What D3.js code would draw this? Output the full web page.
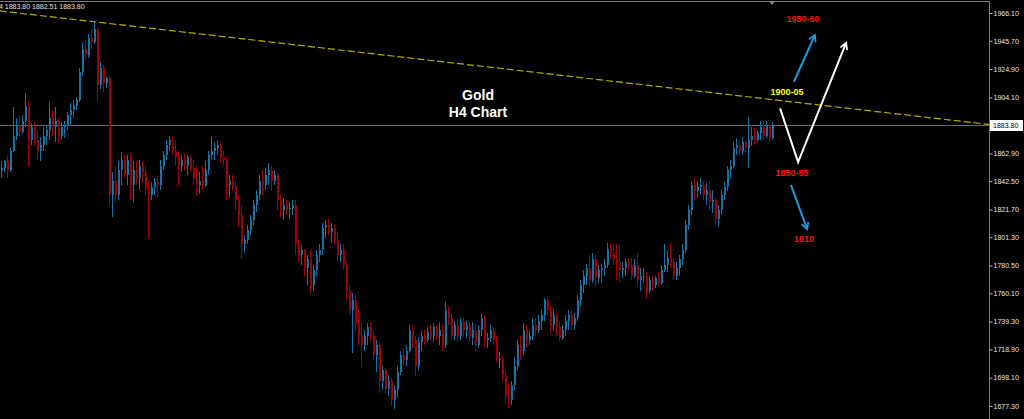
<!DOCTYPE html>
<html><head><meta charset="utf-8">
<script src="https://cdn.jsdelivr.net/npm/d3@7"></script>
<style>html,body{margin:0;padding:0;background:#000;overflow:hidden}svg{display:block}</style>
</head><body><svg id="c" width="1024" height="419"></svg>
<script>
// ---- data (XAUUSD H4, prices) ----
const opens=[1851,1852,1857,1851,1865,1876,1884,1879,1887,1898,
1873,1882,1873,1865,1869,1876,1880,1889,1882,1887,
1876,1882,1884,1891,1895,1898,1902,1923,1940,1935,
1948,1945,1954,1913,1926,1915,1918,1832,1843,1832,
1851,1858,1847,1858,1840,1851,1845,1854,1849,1836,
1832,1838,1842,1840,1854,1862,1869,1873,1865,1860,
1854,1858,1854,1860,1852,1845,1840,1843,1840,1851,
1862,1865,1867,1869,1860,1858,1840,1843,1838,1829,
1818,1796,1799,1807,1814,1825,1832,1843,1840,1847,
1851,1843,1847,1829,1821,1825,1823,1823,1825,1796,
1788,1792,1779,1785,1766,1777,1788,1792,1808,1810,
1805,1808,1799,1788,1792,1781,1762,1748,1755,1737,
1729,1722,1729,1735,1729,1715,1722,1696,1704,1690,
1696,1682,1689,1702,1715,1711,1718,1733,1726,1707,
1724,1729,1726,1732,1729,1735,1729,1733,1722,1748,
1742,1729,1737,1729,1739,1733,1737,1727,1733,1722,
1733,1742,1726,1727,1733,1726,1712,1712,1700,1685,
1682,1693,1707,1722,1718,1733,1726,1729,1737,1733,
1740,1744,1755,1748,1737,1744,1735,1727,1733,1740,
1744,1737,1742,1755,1766,1773,1779,1770,1785,1771,
1777,1779,1781,1793,1790,1785,1783,1777,1779,1783,
1781,1773,1781,1770,1773,1773,1762,1770,1766,1771,
1768,1777,1781,1786,1783,1773,1779,1785,1792,1810,
1821,1840,1835,1838,1840,1832,1836,1827,1829,1815,
1821,1832,1838,1851,1854,1867,1869,1865,1871,1867,
1873,1876,1873,1878,1882,1876,1884,1874];
const highs=[1857,1858,1861,1867,1897,1889,1891,1891,1907,1902,
1885,1886,1880,1875,1882,1884,1901,1895,1897,1889,
1886,1887,1893,1900,1902,1904,1926,1945,1946,1951,
1954,1960,1955,1930,1928,1920,1920,1849,1854,1857,
1864,1862,1862,1863,1857,1857,1858,1857,1854,1843,
1841,1845,1847,1858,1865,1873,1876,1875,1873,1864,
1862,1863,1862,1862,1858,1854,1849,1854,1858,1865,
1876,1871,1873,1871,1865,1860,1847,1847,1843,1832,
1825,1803,1810,1818,1829,1836,1847,1851,1852,1856,
1854,1851,1849,1832,1830,1829,1827,1829,1829,1799,
1796,1793,1788,1792,1781,1792,1796,1812,1814,1815,
1812,1810,1805,1797,1796,1783,1766,1760,1759,1748,
1739,1733,1738,1738,1733,1726,1724,1707,1705,1700,
1698,1693,1707,1718,1720,1722,1737,1737,1729,1728,
1733,1733,1735,1737,1738,1737,1739,1737,1754,1751,
1746,1740,1742,1742,1742,1740,1739,1739,1737,1737,
1746,1744,1731,1737,1735,1729,1717,1715,1704,1694,
1696,1713,1726,1729,1738,1737,1733,1742,1742,1744,
1748,1757,1757,1751,1748,1746,1739,1737,1744,1748,
1748,1746,1759,1770,1777,1782,1788,1790,1788,1781,
1782,1785,1797,1797,1796,1796,1796,1783,1786,1786,
1786,1785,1790,1779,1779,1776,1773,1773,1773,1776,
1781,1796,1792,1797,1786,1783,1788,1796,1814,1825,
1843,1845,1843,1845,1843,1841,1843,1836,1830,1825,
1836,1842,1854,1858,1871,1874,1873,1875,1873,1890,
1882,1882,1880,1887,1886,1887,1885,1886];
const lows=[1845,1849,1845,1849,1864,1873,1876,1877,1882,1854,
1869,1868,1858,1857,1865,1869,1873,1876,1871,1871,
1873,1874,1880,1884,1889,1895,1901,1920,1932,1933,
1940,1943,1901,1910,1908,1911,1825,1816,1827,1829,
1840,1845,1840,1829,1827,1840,1836,1841,1832,1801,
1829,1832,1830,1836,1851,1858,1865,1862,1854,1838,
1849,1851,1847,1849,1840,1832,1834,1836,1838,1847,
1858,1858,1862,1856,1854,1829,1830,1835,1821,1809,
1785,1790,1796,1803,1810,1820,1829,1832,1836,1840,
1835,1840,1821,1816,1814,1818,1815,1818,1788,1783,
1781,1773,1766,1760,1762,1773,1783,1788,1801,1803,
1797,1796,1783,1783,1777,1755,1744,1716,1733,1722,
1706,1718,1722,1726,1711,1702,1687,1689,1687,1685,
1678,1675,1683,1700,1707,1707,1716,1720,1699,1704,
1718,1722,1724,1726,1724,1726,1722,1718,1720,1737,
1726,1726,1724,1726,1728,1727,1724,1722,1718,1720,
1729,1721,1720,1724,1722,1710,1705,1696,1679,1676,
1678,1689,1704,1711,1715,1720,1722,1726,1729,1731,
1733,1740,1744,1731,1733,1729,1724,1726,1729,1733,
1733,1733,1740,1751,1760,1766,1766,1768,1765,1768,
1768,1773,1779,1786,1781,1770,1768,1771,1773,1777,
1770,1771,1766,1762,1768,1756,1760,1762,1764,1765,
1766,1776,1776,1779,1770,1770,1773,1781,1790,1807,
1818,1829,1830,1832,1829,1825,1821,1819,1810,1809,
1818,1829,1835,1845,1852,1862,1862,1862,1863,1852,
1868,1869,1871,1873,1873,1874,1871,1873];
const closes=[1852,1857,1851,1865,1876,1884,1879,1887,1898,1873,
1882,1873,1865,1869,1876,1880,1889,1882,1887,1876,
1882,1884,1891,1895,1898,1902,1923,1940,1935,1948,
1945,1954,1913,1926,1915,1918,1832,1843,1832,1851,
1858,1847,1858,1840,1851,1845,1854,1849,1836,1832,
1838,1842,1840,1854,1862,1869,1873,1865,1860,1854,
1858,1854,1860,1852,1845,1840,1843,1840,1851,1862,
1865,1867,1869,1860,1858,1840,1843,1838,1829,1818,
1796,1799,1807,1814,1825,1832,1843,1840,1847,1851,
1843,1847,1829,1821,1825,1821,1823,1825,1796,1788,
1792,1779,1785,1766,1777,1788,1792,1808,1810,1805,
1808,1799,1788,1792,1781,1762,1748,1755,1737,1729,
1722,1729,1735,1729,1715,1722,1696,1704,1690,1696,
1682,1689,1702,1715,1711,1718,1733,1726,1707,1724,
1729,1726,1732,1729,1735,1729,1733,1722,1748,1742,
1729,1737,1729,1739,1733,1737,1727,1733,1722,1733,
1742,1726,1727,1733,1726,1712,1712,1700,1685,1682,
1693,1707,1722,1718,1733,1726,1729,1737,1733,1740,
1744,1755,1748,1737,1744,1735,1727,1733,1740,1744,
1737,1742,1755,1766,1773,1779,1770,1785,1771,1777,
1779,1781,1793,1790,1785,1783,1777,1779,1783,1781,
1773,1781,1770,1773,1773,1762,1770,1766,1771,1768,
1777,1781,1786,1783,1773,1779,1785,1792,1810,1821,
1840,1835,1838,1840,1832,1836,1827,1829,1815,1821,
1832,1838,1851,1854,1867,1869,1865,1871,1867,1873,
1876,1873,1878,1882,1876,1884,1874,1883.80];

const priceTicks=[1966.10,1945.70,1924.90,1904.10,1862.90,1842.50,1821.70,1801.30,1780.50,1760.10,1739.30,1718.90,1698.10,1677.30];
const lastPrice=1883.80;
const headerText="4 1883.80 1882.51 1883.80";

// trend line (bar index, price)
const trendBars=[-0.33,329.3];
const trendPrices=[1967.6,1884.2];

// scenario annotations (bar index, price)
const blueUpBars=[264.3,271.3],   blueUpPrices=[1915.6,1949.9];
const blueDownBars=[263.3,268.7], blueDownPrices=[1839.7,1807.4];
const whiteVBars=[259.7,265.7,281.7], whiteVPrices=[1896.0,1856.6,1944.1];
const levelLabels=["1950-60","1900-05","1850-55","1810"];
const levelBars=[267.3,262,263.7,267.7];
const levelPrices=[1959.5,1905.8,1846.3,1797.8];
const levelColors=["#ff1414","#ffff00","#ff1414","#ff1414"];
const titleLines=["Gold","H4 Chart"];
const titleBar=159, titlePrices=[1902.2,1889.6];

// ---- drawing ----
const n=closes.length;
const svg=d3.select("#c");
const plotRight=989;
const x=d3.scaleLinear().domain([0,n-1]).range([1,1+3*(n-1)]);
const y=d3.scaleLinear().domain([1677.3,1966.1]).range([406,13]);

svg.append("rect").attr("width",1024).attr("height",419).attr("fill","#000");

const plot=svg.append("g");
// current price line
plot.append("line").attr("x1",0).attr("x2",plotRight).attr("y1",Math.round(y(lastPrice))+0.5).attr("y2",Math.round(y(lastPrice))+0.5)
  .attr("stroke","#6a6a6a").attr("stroke-width",1);

// candles
const idx=d3.range(n);
const col=i=>opens[i]===closes[i]?"#1a9a1a":(closes[i]>opens[i]?"#1674a6":"#a00006");
const cg=plot.append("g").attr("shape-rendering","crispEdges");
cg.selectAll("line.w").data(idx).join("line").attr("class","w")
  .attr("x1",i=>x(i)+0.5).attr("x2",i=>x(i)+0.5)
  .attr("y1",i=>y(highs[i])).attr("y2",i=>y(lows[i]))
  .attr("stroke",col).attr("stroke-width",1);
cg.selectAll("rect.b").data(idx).join("rect").attr("class","b")
  .attr("x",i=>x(i)).attr("width",2)
  .attr("y",i=>y(Math.max(opens[i],closes[i])))
  .attr("height",i=>Math.max(1,Math.abs(y(opens[i])-y(closes[i]))))
  .attr("fill",col);

// trend line
plot.append("line")
  .attr("x1",x(trendBars[0])).attr("y1",y(trendPrices[0]))
  .attr("x2",x(trendBars[1])).attr("y2",y(trendPrices[1]))
  .attr("stroke","#b0b000").attr("stroke-width",1.2).attr("stroke-dasharray","7,3");

// markers
const defs=svg.append("defs");
function mk(id,color){
  defs.append("marker").attr("id",id).attr("viewBox","0 0 10 10").attr("refX",8).attr("refY",5)
    .attr("markerWidth",4.5).attr("markerHeight",4.5).attr("orient","auto")
    .append("path").attr("d","M1,1 L8,5 L1,9").attr("fill","none").attr("stroke",color).attr("stroke-width",2);
}
mk("ab","#1e9ce0"); mk("aw","#ffffff");
const line=d3.line();
function pts(bars,prices){return bars.map((b,k)=>[x(b),y(prices[k])]);}
plot.append("path").attr("d",line(pts(blueUpBars,blueUpPrices))).attr("stroke","#1e9ce0").attr("stroke-width",2).attr("fill","none").attr("marker-end","url(#ab)");
plot.append("path").attr("d",line(pts(blueDownBars,blueDownPrices))).attr("stroke","#1e9ce0").attr("stroke-width",2).attr("fill","none").attr("marker-end","url(#ab)");
plot.append("path").attr("d",line(pts(whiteVBars,whiteVPrices))).attr("stroke","#ffffff").attr("stroke-width",2).attr("fill","none").attr("marker-end","url(#aw)");

// level labels
plot.selectAll("text.lv").data(levelLabels).join("text").attr("class","lv")
  .attr("x",(d,k)=>x(levelBars[k])).attr("y",(d,k)=>y(levelPrices[k]))
  .attr("text-anchor","middle").attr("font-family","Liberation Sans, Arial, sans-serif")
  .attr("font-weight","bold").attr("font-size",9).attr("fill",(d,k)=>levelColors[k]).text(d=>d);

// title
plot.selectAll("text.tt").data(titleLines).join("text").attr("class","tt")
  .attr("x",x(titleBar)).attr("y",(d,k)=>y(titlePrices[k]))
  .attr("text-anchor","middle").attr("font-family","Liberation Sans, Arial, sans-serif")
  .attr("font-weight","bold").attr("font-size",14).attr("fill","#ffffff").text(d=>d);

// frame
svg.append("line").attr("x1",0).attr("x2",plotRight).attr("y1",1.5).attr("y2",1.5).attr("stroke","#7a7a7a");
svg.append("line").attr("x1",plotRight+0.5).attr("x2",plotRight+0.5).attr("y1",1).attr("y2",419).attr("stroke","#7a7a7a");
// chart shift marker
svg.append("path").attr("d",`M${x(n-1)-3},1 L${x(n-1)+3},1 L${x(n-1)},5 Z`).attr("fill","#8a8a8a");

// price axis
const ax=svg.append("g").attr("transform",`translate(${plotRight+0.5},0)`)
  .call(d3.axisRight(y).tickValues(priceTicks).tickSize(3).tickPadding(1).tickFormat(d=>d.toFixed(2)));
ax.select(".domain").remove();
ax.selectAll("line").attr("stroke","#bbbbbb");
ax.selectAll("text").attr("fill","#e6e6e6").attr("font-size",7).attr("font-family","Liberation Sans, Arial, sans-serif");

// current price label
const yl=Math.round(y(lastPrice));
svg.append("rect").attr("x",plotRight+1).attr("y",yl-5).attr("width",33).attr("height",11).attr("fill","#ffffff");
svg.append("text").attr("x",plotRight+4).attr("y",yl+3).attr("fill","#000").attr("font-size",7)
  .attr("font-family","Liberation Sans, Arial, sans-serif").text(lastPrice.toFixed(2));

// header
svg.append("text").attr("x",-1).attr("y",9).attr("fill","#e0e0e0").attr("font-size",7)
  .attr("font-family","Liberation Sans, Arial, sans-serif").text(headerText);
</script></body></html>
